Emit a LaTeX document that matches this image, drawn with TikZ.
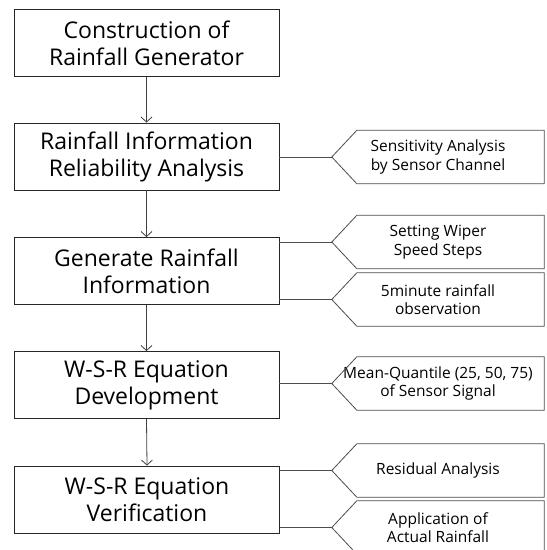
\documentclass[tikz,border=0pt]{standalone}
\usepackage{fontspec}
\setmainfont{Open Sans}
\usetikzlibrary{arrows.meta}

\begin{document}
\begin{tikzpicture}[x=1pt, y=-1pt,
		stage/.style={draw=black!85, line width=0.9pt, minimum width=265pt, minimum height=67pt,
			align=center, inner sep=0pt, font=\fontsize{23}{27}\selectfont},
		note/.style={minimum width=212pt, minimum height=53pt, inner sep=0pt,
			align=center, font=\fontsize{15.5}{18.5}\selectfont},
		rim/.style={draw=black!70, line width=0.8pt},
		flow/.style={draw=black!75, line width=0.8pt, -{Straight Barb[length=5pt,width=11pt]}}]
		\useasboundingbox (0,0) rectangle (547,550);
		\clip (0,0) rectangle (547,550);
		% main stages
		\node[stage] (b1) at (146.5,43) {Construction of\\Rainfall Generator};
		\node[stage] (b2) at (146.5,156.5) {Rainfall Information\\Reliability Analysis};
		\node[stage] (b3) at (146.5,271) {Generate Rainfall\\Information};
		\node[stage] (b4) at (146.5,385) {W-S-R Equation\\Development};
		\node[stage] (b5) at (147,499.5) {W-S-R Equation\\Verification};
		\foreach \a/\b in {b1/b2,b2/b3,b3/b4,b4/b5} {
			\draw[flow] (\a.south) -- (\b.north);
		};
		% side notes
		\node[note] (s1) at (438,157) {Sensitivity Analysis\\by Sensor Channel};
		\node[note] (s2) at (438,242) {Setting Wiper\\Speed Steps};
		\node[note] (s3) at (438,299.5) {5minute rainfall\\observation};
		\node[note] (s4) at (438,383.5) {Mean-Quantile (25, 50, 75)\\of Sensor Signal};
		\node[note] (s5) at (438,470.5) {Residual Analysis};
		\node[note] (s6) at (438,527.5) {Application of\\Actual Rainfall};
		\foreach \n in {s1,s2,s3,s4,s5,s6} {
			\draw[rim] (\n.north east) -- ([xshift=25pt]\n.north west) -- (\n.west)
			-- ([xshift=25pt]\n.south west) -- (\n.south east) -- cycle;
		};
		% links to notes
		\foreach \a/\n in {b2/s1,b3/s2,b3/s3,b4/s4,b5/s5,b5/s6} {
			\draw[rim] (\a.east |- \n.west) -- (\n.west);
		};
\end{tikzpicture}
\end{document}
